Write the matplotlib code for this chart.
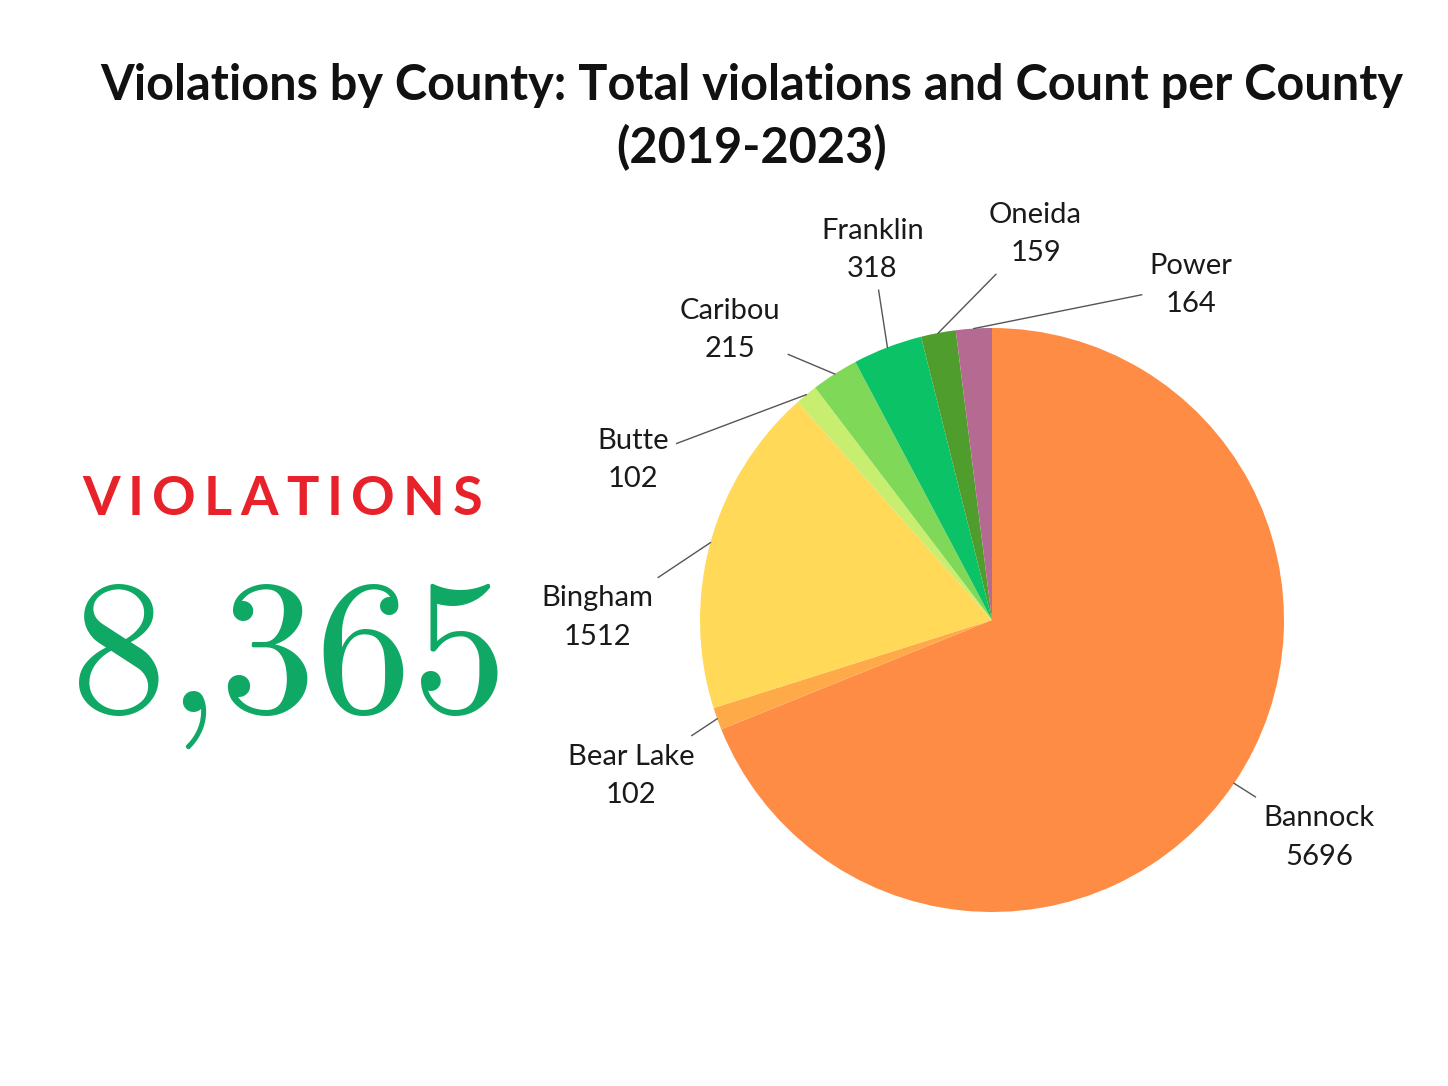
import numpy as np
import matplotlib.pyplot as plt

# data
counties = ["Bannock", "Bear Lake", "Bingham", "Butte", "Caribou", "Franklin", "Oneida", "Power"]
counts = [5696, 102, 1512, 102, 215, 318, 159, 164]
slice_colors = ["#FF8C45", "#FFAA48", "#FFD957", "#C8EE70", "#7FD857", "#0BC266", "#4E9D2D", "#B46A91"]
headline_label = "VIOLATIONS"
headline_total = "8,365"
title = "Violations by County: Total violations and Count per County\n(2019-2023)"


def spread_angles(angles, min_sep, n_iter=300):
    # push label angles apart so neighbouring labels do not collide
    out = list(angles)
    order = sorted(range(len(out)), key=lambda i: out[i])
    for _ in range(n_iter):
        for a, b in zip(order[:-1], order[1:]):
            gap = out[b] - out[a]
            if gap < min_sep:
                push = (min_sep - gap) / 2
                out[a] -= push
                out[b] += push
    return out


def clip_to_box(p, t, box):
    # point where the segment p -> t first enters the box (x0, y0, x1, y1) around t
    x0, y0, x1, y1 = box
    dx, dy = t[0] - p[0], t[1] - p[1]
    best = 1.0
    for lo, hi, d, s in ((x0, x1, dx, p[0]), (y0, y1, dy, p[1])):
        if d == 0:
            continue
        for edge in (lo, hi):
            k = (edge - s) / d
            if 0 <= k < best:
                q = (p[0] + k * dx, p[1] + k * dy)
                if x0 - 1e-9 <= q[0] <= x1 + 1e-9 and y0 - 1e-9 <= q[1] <= y1 + 1e-9:
                    best = k
    return p[0] + best * dx, p[1] + best * dy


def main():
    W, H = 1448, 1086
    fig = plt.figure(figsize=(W / 100, H / 100), dpi=100)
    fig.patch.set_facecolor("white")
    renderer = fig.canvas.get_renderer()

    fig.text(752 / W, 1 - 117 / H, title, ha="center", va="center",
             fontsize=35, fontweight="bold", family="Lato", linespacing=1.4,
             color="#111111")

    # letter-spaced headline word, fitted to 82..482 px
    letters = []
    for ch in headline_label:
        t = fig.text(0, 1 - 500 / H, ch, ha="left", va="center", fontsize=39,
                     fontweight="bold", family="Lato", color="#E8222B")
        letters.append(t)
    widths = [t.get_window_extent(renderer).width for t in letters]
    gap = (400 - sum(widths)) / (len(letters) - 1)
    x = 82
    for t, w in zip(letters, widths):
        t.set_x(x / W)
        x += w + gap

    fig.text(71 / W, 1 - 712 / H, headline_total, ha="left", va="baseline",
             fontsize=138, family="cmr10", color="#10A865")

    # pie, centre (992, 620) px, radius 292 px
    cx, cy, r = 992, 620, 292
    ax = fig.add_axes([(cx - r) / W, (H - cy - r) / H, 2 * r / W, 2 * r / H])
    wedges, _ = ax.pie(counts, colors=slice_colors, startangle=90, counterclock=False,
                       radius=1.0, wedgeprops=dict(linewidth=0))
    ax.set_xlim(-1, 1)
    ax.set_ylim(-1, 1)
    ax.set_aspect("equal")
    ax.axis("off")

    mids = []
    for w in wedges:
        m = (w.theta1 + w.theta2) / 2
        if m > 270:
            m -= 360
        mids.append(m)
    label_angles = spread_angles(mids, 24)

    pad = 8 / r  # data units
    for name, val, m, la in zip(counties, counts, mids, label_angles):
        mr, lr = np.deg2rad(m), np.deg2rad(la)
        p = (np.cos(mr), np.sin(mr))
        tc = (1.35 * np.cos(lr), 1.33 * np.sin(lr))
        txt = ax.text(tc[0], tc[1], f"{name}\n{val}", ha="center", va="center",
                      fontsize=21, family="Lato", linespacing=1.6,
                      color="#1a1a1a", clip_on=False)
        bb = txt.get_window_extent(renderer).transformed(ax.transData.inverted())
        box = (bb.x0 - pad, bb.y0 - pad, bb.x1 + pad, bb.y1 + pad)
        q = clip_to_box(p, tc, box)
        ax.plot([p[0], q[0]], [p[1], q[1]], color="#555555", lw=1.0, clip_on=False)

    fig.savefig("out.png", dpi=100, facecolor="white")
    plt.close(fig)


if __name__ == "__main__":
    main()
